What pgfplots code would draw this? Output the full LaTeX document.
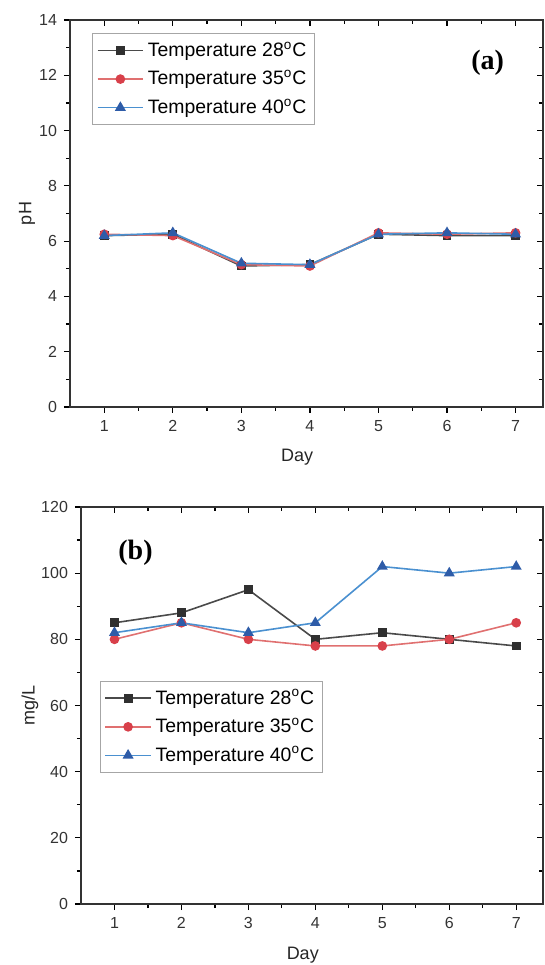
\documentclass[border=0pt]{standalone}
\usepackage{pgfplots}
\pgfplotsset{compat=1.18}
\usepackage{fontspec}
\setmainfont{Liberation Sans}
\newfontfamily\serif{Liberation Serif}

\definecolor{blkline}{HTML}{4A4A4A}
\definecolor{blkmark}{HTML}{303030}
\definecolor{redline}{HTML}{E07070}
\definecolor{redmark}{HTML}{D8404A}
\definecolor{bluline}{HTML}{4A90D0}
\definecolor{blumark}{HTML}{2E5CA8}

\pgfplotsset{
  frame/.style={
    scale only axis,
    xmin=0.5, xmax=7.4,
    xtick={1,2,3,4,5,6,7},
    minor x tick num=1, minor y tick num=1,
    major tick length=3pt, minor tick length=2pt,
    every tick/.style={black, line width=0.6pt},
    axis line style={line width=0.9pt, black!80},
    /pgf/number format/assume math mode=true,
    tick label style={font=\fontsize{8}{9}\selectfont, black!80},
    label style={font=\fontsize{9}{10}\selectfont, black!85},
  },
  lower/.style={frame, tick pos=lower, tick align=outside},
  upper/.style={frame, tick pos=upper, tick align=inside,
    xticklabels={}, yticklabels={}},
  s28/.style={color=blkline, line width=0.8pt, mark=square*, mark size=1.8pt,
    mark options={fill=blkmark, draw=blkmark, solid}},
  s35/.style={color=redline, line width=0.8pt, mark=*, mark size=2pt,
    mark options={fill=redmark, draw=redmark, solid}},
  s40/.style={color=bluline, line width=0.8pt, mark=triangle*, mark size=2.4pt,
    mark options={fill=blumark, draw=blumark, solid}},
  leg/.style={
    legend cell align=left,
    legend style={draw=gray!70, line width=0.6pt, fill=white,
      font=\fontsize{9.7}{11.6}\selectfont, row sep=1.5pt,
      inner xsep=2pt, inner ysep=2pt, anchor=north west},
    legend image code/.code={
      \draw[mark repeat=2, mark phase=2] plot coordinates {(0cm,0cm) (0.4cm,0cm) (0.8cm,0cm)};}
  },
}

\begin{document}
\begin{tikzpicture}
\useasboundingbox (0,0) rectangle (272.5pt,482.5pt);

% (a) pH
\begin{axis}[lower, leg,
  at={(35pt,279pt)}, anchor=south west,
  width=236.5pt, height=193.5pt,
  ymin=0, ymax=14, ytick={0,2,...,14},
  xlabel={Day}, ylabel={pH},
  xlabel style={at={(rel axis cs:0.48,0)}, anchor=center, yshift=-25pt},
  ylabel style={at={(rel axis cs:0,0.5)}, anchor=center, yshift=21.5pt},
  legend style={at={(rel axis cs:0.047,0.966)}},
]
\addplot[s28] coordinates {(1,6.2) (2,6.25) (3,5.1) (4,5.15) (5,6.25) (6,6.2) (7,6.2)};
\addlegendentry{Temperature 28\textsuperscript{o}C}
\addplot[s35] coordinates {(1,6.25) (2,6.2) (3,5.15) (4,5.1) (5,6.3) (6,6.25) (7,6.3)};
\addlegendentry{Temperature 35\textsuperscript{o}C}
\addplot[s40] coordinates {(1,6.2) (2,6.3) (3,5.2) (4,5.15) (5,6.25) (6,6.3) (7,6.25)};
\addlegendentry{Temperature 40\textsuperscript{o}C}
\node[font=\serif\bfseries\fontsize{14}{16}\selectfont] at (rel axis cs:0.883,0.89) {(a)};
\end{axis}
\begin{axis}[upper, at={(35pt,279pt)}, anchor=south west,
  width=236.5pt, height=193.5pt, ymin=0, ymax=14, ytick={0,2,...,14}]
\end{axis}

% (b) mg/L
\begin{axis}[lower, leg,
  at={(40.5pt,30.5pt)}, anchor=south west,
  width=231pt, height=198.5pt,
  ymin=0, ymax=120, ytick={0,20,...,120},
  xlabel={Day}, ylabel={mg/L},
  xlabel style={at={(rel axis cs:0.48,0)}, anchor=center, yshift=-25.5pt},
  ylabel style={at={(rel axis cs:0,0.5)}, anchor=center, yshift=25.5pt},
  legend style={at={(rel axis cs:0.041,0.562)}},
]
\addplot[s28] coordinates {(1,85) (2,88) (3,95) (4,80) (5,82) (6,80) (7,78)};
\addlegendentry{Temperature 28\textsuperscript{o}C}
\addplot[s35] coordinates {(1,80) (2,85) (3,80) (4,78) (5,78) (6,80) (7,85)};
\addlegendentry{Temperature 35\textsuperscript{o}C}
\addplot[s40] coordinates {(1,82) (2,85) (3,82) (4,85) (5,102) (6,100) (7,102)};
\addlegendentry{Temperature 40\textsuperscript{o}C}
\node[font=\serif\bfseries\fontsize{14}{16}\selectfont] at (rel axis cs:0.118,0.884) {(b)};
\end{axis}
\begin{axis}[upper, at={(40.5pt,30.5pt)}, anchor=south west,
  width=231pt, height=198.5pt, ymin=0, ymax=120, ytick={0,20,...,120}]
\end{axis}
\end{tikzpicture}
\end{document}
